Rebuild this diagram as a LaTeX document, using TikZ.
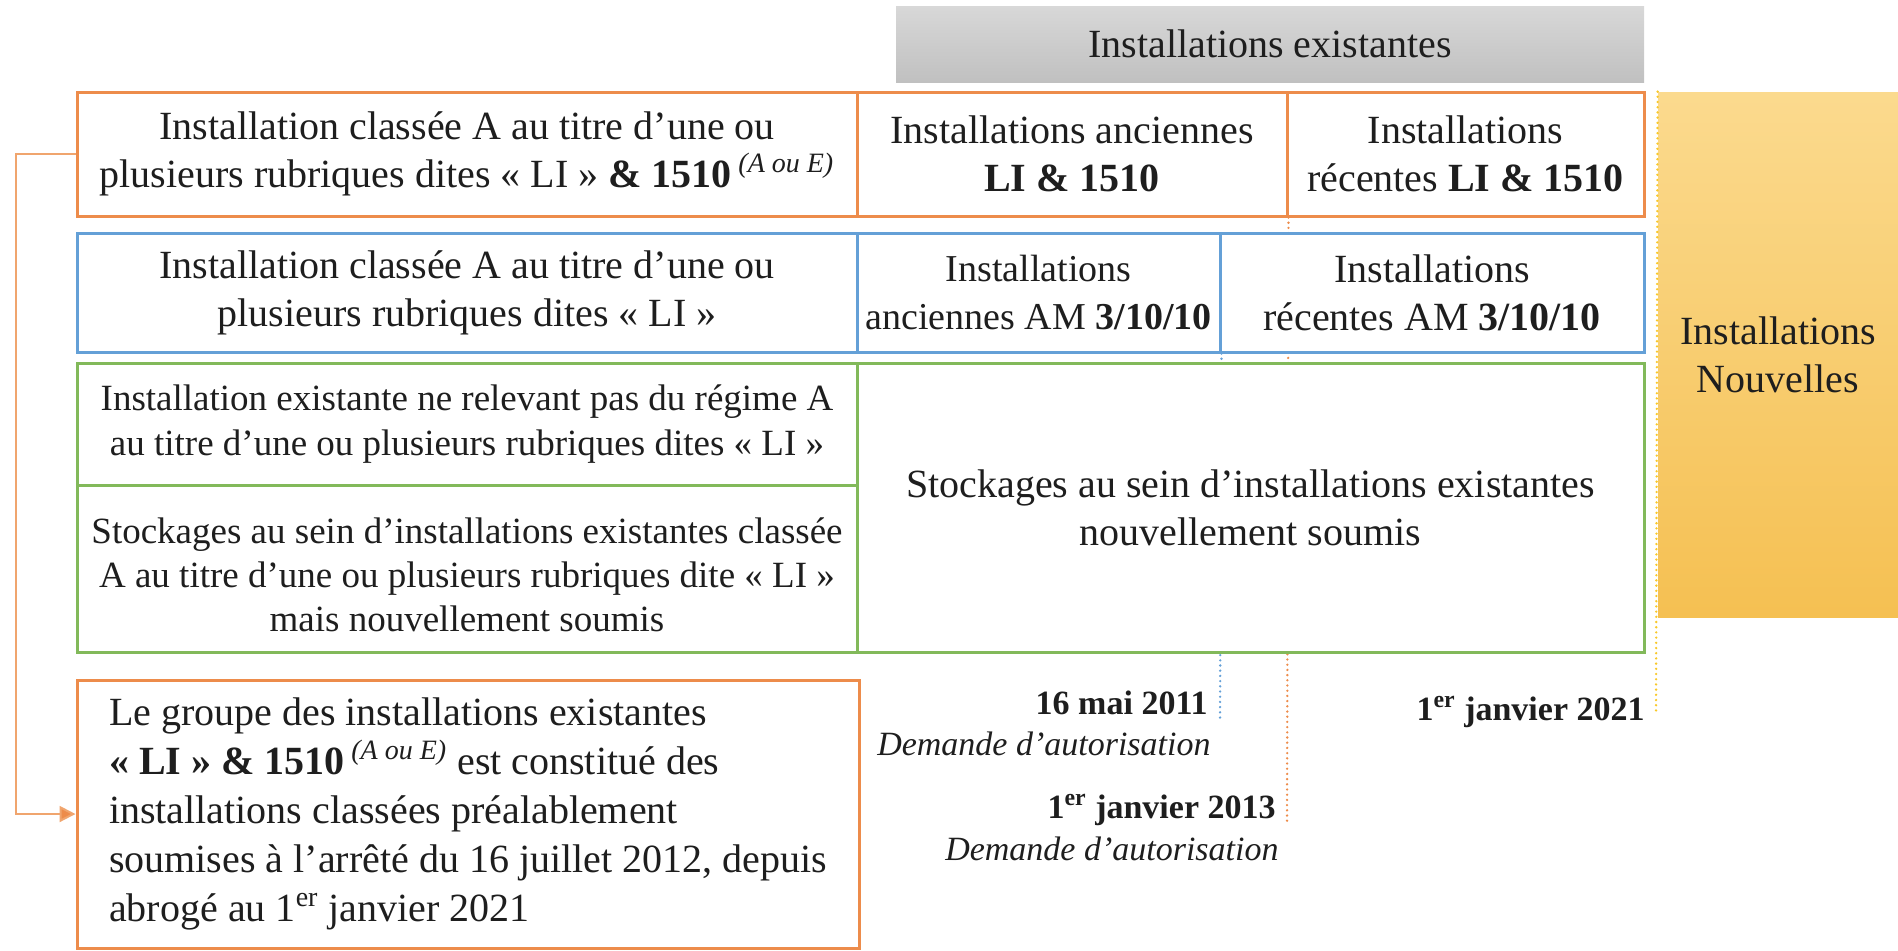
\documentclass[tikz,border=0pt]{standalone}
\usepackage{fontspec}
\setmainfont{Liberation Serif}
\usetikzlibrary{arrows.meta, backgrounds}

\definecolor{orangeB}{RGB}{237,140,75}
\definecolor{orangeL}{RGB}{240,165,110}
\definecolor{blueB}{RGB}{100,160,215}
\definecolor{greenB}{RGB}{130,185,90}
\definecolor{yellowT}{RGB}{251,218,142}
\definecolor{yellowB}{RGB}{245,192,82}
\definecolor{yellowD}{RGB}{248,200,40}
\definecolor{greyT}{RGB}{216,216,216}
\definecolor{greyB}{RGB}{192,192,192}
\definecolor{txt}{RGB}{30,30,30}

\begin{document}
\begin{tikzpicture}[x=0.5pt, y=-0.5pt,
    cell/.style={draw, line width=1.5pt, fill=white, align=center, inner sep=2pt,
        text=txt, font=\fontsize{20}{24}\selectfont},
    orangecell/.style={cell, draw=orangeB},
    bluecell/.style={cell, draw=blueB},
    greencell/.style={cell, draw=greenB},
    header/.style={top color=greyT, bottom color=greyB, text=txt,
        font=\fontsize{20}{24}\selectfont},
    datebold/.style={inner sep=0pt, text=txt, font=\fontsize{17}{20}\selectfont\bfseries},
    dateital/.style={inner sep=0pt, text=txt, font=\fontsize{17}{20}\selectfont\itshape},
    milestone/.style={line width=1.3pt, line cap=round, dash pattern=on 0pt off 2.6pt},
    link/.style={draw=orangeL, line width=1pt, -{Triangle[length=8pt, width=8pt, fill=orangeB]}}]

    \useasboundingbox (0,0) rectangle (1898,950);

    % 1. En-tete
    \node[header, minimum width=374pt, minimum height=38pt] (hdr) at (1270,44) {Installations existantes};

    % 2. Ligne orange (LI & 1510)
    \node[orangecell, minimum width=390pt, minimum height=62pt] (r1a) at (467,154)
        {Installation classée A au titre d’une ou\\plusieurs rubriques dites «~LI~» \textbf{\& 1510}\,\textsuperscript{\textit{(A ou E)}}};
    \node[orangecell, minimum width=215pt, minimum height=62pt] (r1b) at (1072,154)
        {Installations anciennes\\\textbf{LI \& 1510}};
    \node[orangecell, minimum width=178.5pt, minimum height=62pt] (r1c) at (1465.5,154)
        {Installations\\récentes \textbf{LI \& 1510}};

    % 3. Ligne bleue (AM 3/10/10)
    \node[bluecell, minimum width=390pt, minimum height=59.5pt] (r2a) at (467,292.5)
        {Installation classée A au titre d’une ou\\plusieurs rubriques dites «~LI~»};
    \node[bluecell, minimum width=181.5pt, minimum height=59.5pt, inner sep=0pt,
        font=\fontsize{19}{24}\selectfont] (r2b) at (1038.5,292.5)
        {Installations\\anciennes AM \textbf{3/10/10}};
    \node[bluecell, minimum width=212pt, minimum height=59.5pt] (r2c) at (1432,292.5)
        {Installations\\récentes AM \textbf{3/10/10}};

    % 4. Lignes vertes (stockages)
    \node[greencell, minimum width=390pt, minimum height=61pt,
        font=\fontsize{18.5}{22.5}\selectfont] (r3a) at (467,424)
        {Installation existante ne relevant pas du régime A\\au titre d’une ou plusieurs rubriques dites «~LI~»};
    \node[greencell, minimum width=390pt, minimum height=83.5pt,
        font=\fontsize{18.5}{22}\selectfont] (r3b) at (467,568.5)
        {\rule{0pt}{19pt}Stockages au sein d’installations existantes classée\\A au titre d’une ou plusieurs rubriques dite «~LI~»\\mais nouvellement soumis};
    \node[greencell, minimum width=393.5pt, minimum height=144.5pt] (r3c) at (1250.5,507.5)
        {Stockages au sein d’installations existantes\\nouvellement soumis};

    % 5. Installations nouvelles
    \node[top color=yellowT, bottom color=yellowB, text=txt, align=center,
        font=\fontsize{20}{24}\selectfont, minimum width=120pt, minimum height=262.5pt] (nouv) at (1778,354.5)
        {Installations\\Nouvelles};

    % 6. Groupe LI & 1510
    \node[orangecell, align=left, minimum width=391pt, minimum height=134pt,
        font=\fontsize{20}{24.5}\selectfont] (grp) at (468,814)
        {Le groupe des installations existantes\\
         \textbf{«~LI~» \& 1510}\,\textsuperscript{\textit{(A ou E)}} est constitué des\\
         installations classées préalablement\\
         soumises à l’arrêté du 16 juillet 2012, depuis\\
         abrogé au 1\textsuperscript{er} janvier 2021};

    \draw[link] (r1a.west) -- ++(-60,0) |- (grp.west);

    % 7. Dates
    \coordinate (m2011) at (1220,720);
    \coordinate (m2013) at (1287,823);
    \coordinate (m2021) at (1656,712);

    \begin{scope}[on background layer]
        \draw[milestone, draw=blueB] (r2b.south east) -- (m2011);
        \draw[milestone, draw=orangeB] (r1b.south east) -- (m2013);
    \end{scope}
    \draw[milestone, draw=yellowD] (nouv.north west) -- (m2021);

    \node[datebold, anchor=base east] (d2011) at (1208,714) {16 mai 2011};
    \node[dateital, anchor=base east] (a2011) at (1211,755) {Demande d’autorisation};
    \node[datebold, anchor=base east] (d2013) at (1276,818) {1\textsuperscript{er} janvier 2013};
    \node[dateital, anchor=base east] (a2013) at (1279,860) {Demande d’autorisation};
    \node[datebold, anchor=base east] (d2021) at (1645,720) {1\textsuperscript{er} janvier 2021};

\end{tikzpicture}
\end{document}
